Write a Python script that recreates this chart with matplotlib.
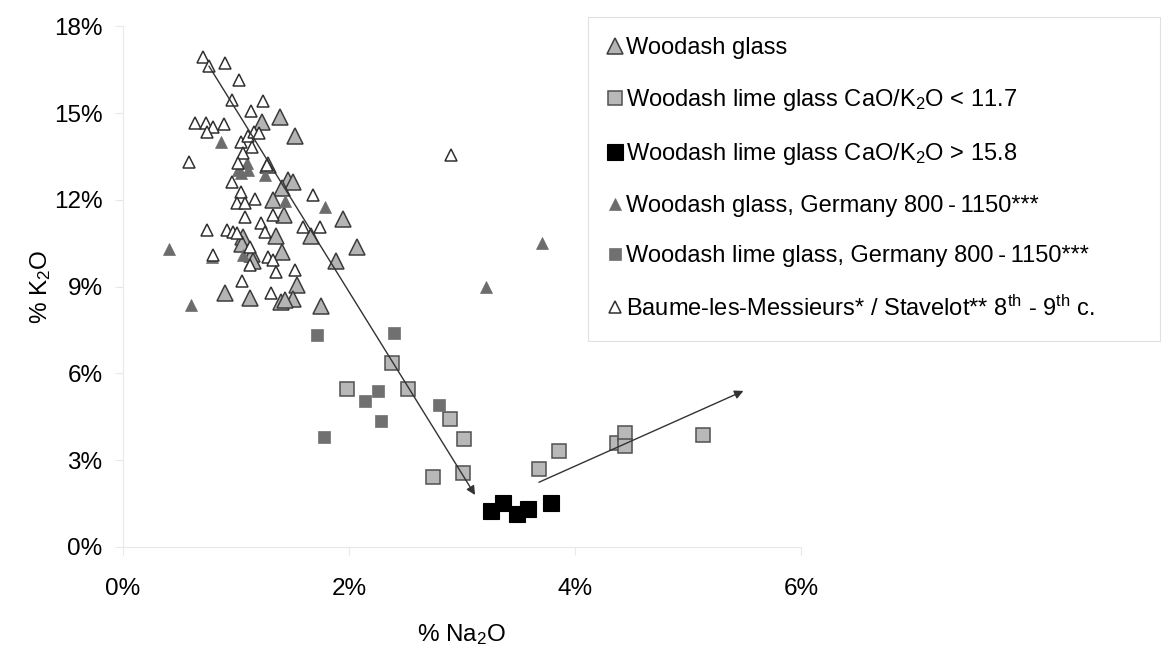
import matplotlib
matplotlib.use("Agg")
import matplotlib.pyplot as plt
from matplotlib.lines import Line2D
from matplotlib.ticker import FuncFormatter

plt.rcParams['font.family'] = ['Liberation Sans', 'DejaVu Sans']
plt.rcParams['mathtext.fontset'] = 'custom'
plt.rcParams['mathtext.rm'] = 'Liberation Sans'
plt.rcParams['mathtext.it'] = 'Liberation Sans:italic'
plt.rcParams['mathtext.bf'] = 'Liberation Sans:bold'

# ---- data (% Na2O, % K2O) ----
woodash_na = [1.39, 1.23, 1.52, 1.28, 1.46, 1.50, 1.41, 1.33, 1.42, 1.95, 1.66, 1.35, 1.06,
              1.05, 1.14, 1.15, 1.41, 2.07, 1.88, 1.54, 0.90, 1.12, 1.40, 1.50, 1.43, 1.75]
woodash_k = [14.87, 14.70, 14.21, 13.21, 12.69, 12.62, 12.41, 12.00, 11.48, 11.34, 10.75, 10.75, 10.72,
             10.47, 10.13, 9.89, 10.20, 10.37, 9.89, 9.06, 8.78, 8.61, 8.47, 8.57, 8.54, 8.33]

lime_low_na = [2.38, 1.98, 2.52, 2.89, 3.02, 3.01, 2.74, 3.68, 3.86, 4.37, 4.44, 4.44, 5.13]
lime_low_k = [6.36, 5.46, 5.46, 4.42, 3.73, 2.55, 2.41, 2.69, 3.31, 3.59, 3.93, 3.48, 3.87]

lime_high_na = [3.26, 3.36, 3.49, 3.58, 3.79]
lime_high_k = [1.24, 1.51, 1.13, 1.30, 1.51]

ger_glass_na = [0.87, 1.04, 1.10, 1.02, 1.11, 1.26, 1.43, 1.79, 0.41, 0.79, 1.06, 0.60, 3.21, 3.71]
ger_glass_k = [14.00, 12.93, 13.28, 13.03, 13.03, 12.86, 11.96, 11.75, 10.30, 10.02, 10.09, 8.36, 8.99, 10.51]

ger_lime_na = [1.72, 2.40, 2.26, 2.14, 2.28, 2.80, 1.78]
ger_lime_k = [7.33, 7.39, 5.39, 5.04, 4.35, 4.90, 3.80]

baume_na = [0.71, 0.76, 0.90, 1.03, 0.96, 1.24, 1.13, 0.64, 0.73, 0.80, 0.89, 0.74, 1.04, 1.11,
            1.16, 1.20, 1.14, 1.06, 1.02, 0.58, 1.27, 0.96, 1.04, 1.17, 1.68, 1.01, 1.08, 1.08,
            1.22, 1.26, 1.33, 1.59, 1.74, 0.74, 0.92, 0.97, 1.01, 0.80, 1.12, 1.28, 1.33, 1.12,
            1.35, 1.52, 1.05, 1.31, 2.90]
baume_k = [16.94, 16.63, 16.74, 16.15, 15.46, 15.42, 15.08, 14.66, 14.66, 14.52, 14.63, 14.35, 14.00, 14.21,
           14.35, 14.31, 13.83, 13.62, 13.28, 13.31, 13.21, 12.62, 12.27, 12.03, 12.17, 11.89, 11.89, 11.41,
           11.20, 10.89, 11.48, 11.06, 11.06, 10.96, 10.96, 10.89, 10.85, 10.09, 10.37, 10.02, 9.92, 9.75,
           9.51, 9.57, 9.19, 8.78, 13.55]

arrow1 = [(0.76, 16.63), (3.115, 1.79)]
arrow2 = [(3.68, 2.23), (5.49, 5.39)]

x_ticks = [0, 2, 4, 6]
y_ticks = [0, 3, 6, 9, 12, 15, 18]

labels = ["Woodash glass",
          "Woodash lime glass CaO/K$_2$O < 11.7",
          "Woodash lime glass CaO/K$_2$O > 15.8",
          "Woodash glass, Germany 800\u2009-\u20091150***",
          "Woodash lime glass, Germany 800\u2009-\u20091150***",
          "Baume-les-Messieurs* / Stavelot** 8$^{\\mathrm{th}}$ - 9$^{\\mathrm{th}}$ c."]

# ---- figure ----
fig = plt.figure(figsize=(11.62, 6.46), dpi=100)
ax = fig.add_axes([0.1059, 0.1537, 0.5835, 0.8053])
ax.set_xlim(0, 6)
ax.set_ylim(0, 18)

styles = [
    dict(marker='^', ms=11.5, mfc='#b4b4b4', mec='#3c3c3c', mew=1.1),
    dict(marker='s', ms=10, mfc='#b8b8b8', mec='#505050', mew=1.1),
    dict(marker='s', ms=11, mfc='#000000', mec='#000000', mew=0.8),
    dict(marker='^', ms=9, mfc='#6c6c6c', mec='#6c6c6c', mew=0.5),
    dict(marker='s', ms=8, mfc='#707070', mec='#707070', mew=0.5),
    dict(marker='^', ms=8.5, mfc='white', mec='#303030', mew=1.1),
]
series = [(woodash_na, woodash_k), (lime_low_na, lime_low_k), (lime_high_na, lime_high_k),
          (ger_glass_na, ger_glass_k), (ger_lime_na, ger_lime_k), (baume_na, baume_k)]
zorders = [3, 3, 3, 4, 3, 5]
for (xs, ys), st, z in zip(series, styles, zorders):
    ax.plot(xs, ys, ls='none', zorder=z, clip_on=False, **st)

for (s, e) in (arrow1, arrow2):
    ax.annotate('', xy=e, xytext=s,
                arrowprops=dict(arrowstyle='-|>', color='#333333', lw=1.0,
                                mutation_scale=13, shrinkA=0, shrinkB=0),
                zorder=6)

for sp in ('top', 'right'):
    ax.spines[sp].set_visible(False)
for sp in ('left', 'bottom'):
    ax.spines[sp].set_color('#e8e8e8')
    ax.spines[sp].set_linewidth(0.8)

ax.set_xticks(x_ticks)
ax.set_yticks(y_ticks)
fmt = FuncFormatter(lambda v, p: f"{v:.0f}%")
ax.xaxis.set_major_formatter(fmt)
ax.yaxis.set_major_formatter(fmt)
ax.tick_params(axis='both', direction='out', length=5.8, width=0.8, color='#e8e8e8',
               labelsize=17.5, labelcolor='black')
ax.tick_params(axis='x', pad=17)
ax.tick_params(axis='y', pad=9)

ax.set_xlabel("% Na$_2$O", fontsize=17.5)
ax.set_ylabel("% K$_2$O", fontsize=17.5)
ax.xaxis.set_label_coords(0.5, -0.145)
ax.yaxis.label.set(ha='center', va='center')
ax.yaxis.set_label_coords(-0.122, 0.5)

handles = [Line2D([], [], ls='none', **st) for st in styles]
leg = fig.legend(handles, labels, loc='upper left',
                 bbox_to_anchor=(588 / 1162, 1 - 342 / 646, (1160 - 588) / 1162, (342 - 17) / 646),
                 mode='expand', frameon=True, fancybox=False, framealpha=1,
                 edgecolor='#e0e0e0', fontsize=17, labelspacing=1.19, handlelength=0.6,
                 handletextpad=0.15, borderpad=0.85, borderaxespad=0)
leg.get_frame().set_linewidth(0.8)

fig.savefig("out.png", dpi=100)
